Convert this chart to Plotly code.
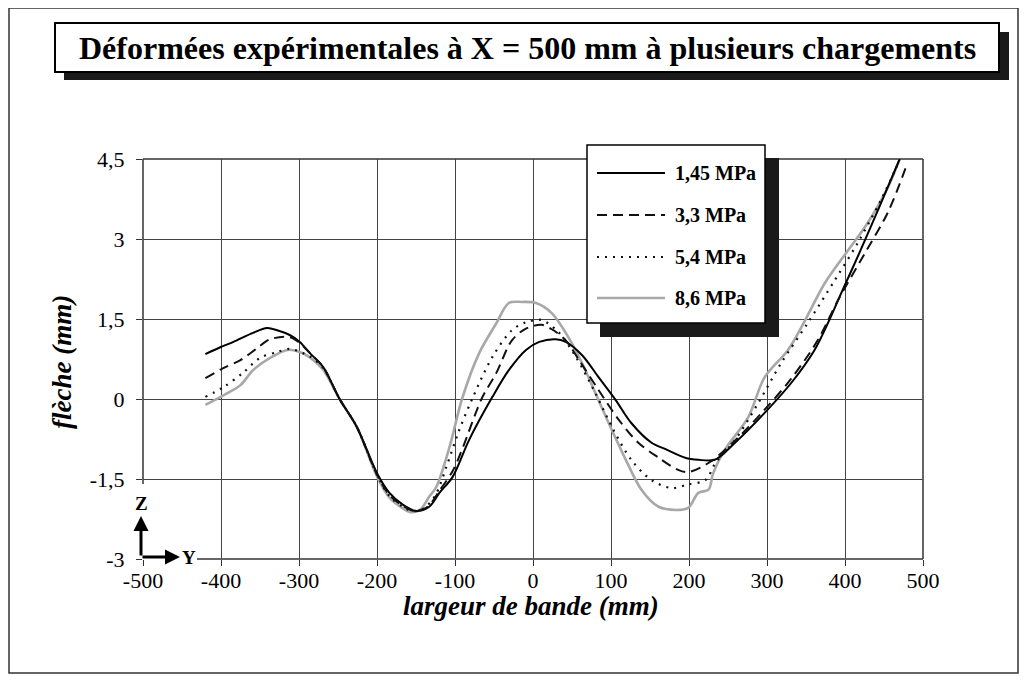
import plotly.graph_objects as go

# ---------------- data ----------------
x_145 = [-420, -401, -384, -359, -341, -328, -312, -299, -286, -269, -248, -226, -200, -184, -167, -150,
         -133, -120, -103, -82, -52, -31, -9, 8, 29, 42, 63, 84, 106, 126, 152, 170, 195, 212, 233, 259,
         297, 331, 361, 378, 395, 420, 446, 471]
y_145 = [0.84, 0.97, 1.07, 1.24, 1.33, 1.29, 1.2, 1.07, 0.86, 0.6, 0.0, -0.52, -1.39, -1.76, -1.98, -2.1,
         -2.02, -1.76, -1.46, -0.77, 0.04, 0.54, 0.92, 1.07, 1.12, 1.07, 0.82, 0.41, -0.02, -0.45, -0.82,
         -0.94, -1.1, -1.14, -1.14, -0.82, -0.26, 0.3, 0.92, 1.42, 1.98, 2.79, 3.67, 4.53]

x_33 = [-420, -397, -375, -354, -337, -312, -299, -286, -269, -248, -226, -200, -184, -167, -152, -135,
        -120, -103, -91, -66, -47, -27, -9, 11, 25, 42, 59, 84, 110, 135, 161, 186, 199, 225, 259, 297,
        331, 365, 391, 425, 455, 480]
y_33 = [0.39, 0.58, 0.73, 0.95, 1.12, 1.16, 1.05, 0.86, 0.6, 0.0, -0.52, -1.42, -1.8, -2.0, -2.1, -2.02,
        -1.72, -1.35, -0.95, 0.0, 0.49, 1.1, 1.32, 1.39, 1.3, 1.1, 0.73, 0.17, -0.39, -0.82, -1.1, -1.33,
        -1.37, -1.2, -0.78, -0.2, 0.38, 1.1, 1.85, 2.72, 3.5, 4.42]

x_54 = [-420, -397, -372, -350, -328, -312, -295, -286, -269, -248, -226, -200, -184, -167, -155, -140,
        -125, -111, -95, -78, -52, -27, -9, 11, 33, 55, 80, 101, 126, 152, 178, 199, 221, 234, 259, 289,
        318, 352, 387, 416, 446, 470]
y_54 = [0.04, 0.22, 0.49, 0.77, 0.88, 0.94, 0.86, 0.8, 0.58, 0.0, -0.52, -1.42, -1.82, -2.02, -2.1, -2.05,
        -1.8, -1.27, -0.6, 0.0, 0.79, 1.29, 1.44, 1.48, 1.25, 0.79, 0.11, -0.52, -1.14, -1.52, -1.67,
        -1.6, -1.52, -1.2, -0.77, -0.07, 0.67, 1.42, 2.23, 2.92, 3.73, 4.48]

x_86 = [-420, -397, -375, -359, -337, -315, -299, -286, -269, -248, -226, -200, -184, -167, -158, -145,
        -133, -124, -107, -91, -69, -47, -31, -14, 4, 24, 42, 63, 80, 97, 119, 139, 161, 183, 199, 212,
        225, 231, 246, 276, 297, 327, 349, 374, 404, 429, 455, 471]
y_86 = [-0.11, 0.07, 0.26, 0.54, 0.77, 0.92, 0.88, 0.78, 0.55, 0.0, -0.52, -1.45, -1.85, -2.05, -2.12,
        -2.08, -1.83, -1.65, -0.9, 0.0, 0.86, 1.42, 1.8, 1.82, 1.8, 1.61, 1.24, 0.67, 0.11, -0.45, -1.14,
        -1.7, -2.02, -2.08, -2.04, -1.76, -1.7, -1.39, -0.95, -0.34, 0.41, 0.92, 1.48, 2.17, 2.79, 3.3,
        3.97, 4.53]

series_names = ["1,45 MPa", "3,3 MPa", "5,4 MPa", "8,6 MPa"]
x_ticks = [-500, -400, -300, -200, -100, 0, 100, 200, 300, 400, 500]
y_ticks = [-3, -1.5, 0, 1.5, 3, 4.5]
y_tick_text = ["-3", "-1,5", "0", "1,5", "3", "4,5"]

title_text = "Déformées expérimentales à X = 500 mm à plusieurs chargements"
x_title = "largeur de bande (mm)"
y_title = "flèche (mm)"

# ---------------- styling ----------------
FONT = "Liberation Serif"
OFF = 8                      # default page margin of the html body
W, H = 1011, 666
L, R, T, B = 143 - OFF, 923 - OFF, 159 - OFF, 559 - OFF  # plot area in figure pixels


def px(xs):
    """screen x pixel -> paper coordinate"""
    return (xs - OFF - L) / (R - L)


def py(ys):
    """screen y pixel -> paper coordinate"""
    return (B - (ys - OFF)) / (B - T)


styles = [
    dict(color="black", width=2, dash="solid"),
    dict(color="#111111", width=2, dash="10px,6px"),
    dict(color="#111111", width=2.2, dash="2px,6px"),
    dict(color="#a8a8a8", width=2.6, dash="solid"),
]

fig = go.Figure()
order = [3, 0, 1, 2]  # lightest curve at the back
all_x = [x_145, x_33, x_54, x_86]
all_y = [y_145, y_33, y_54, y_86]
for i in order:
    fig.add_trace(go.Scatter(x=all_x[i], y=all_y[i], mode="lines", name=series_names[i],
                             line=dict(shape="spline", smoothing=0.9, **styles[i]), showlegend=False))

shapes = []
# outer frame
shapes.append(dict(type="rect", xref="paper", yref="paper", x0=px(9), x1=px(1018), y0=py(673), y1=py(8),
                   line=dict(color="#333333", width=1.5), layer="below"))
# corner eraser under the Z/Y arrows
shapes.append(dict(type="rect", xref="paper", yref="paper", x0=px(143.5), x1=px(196), y0=py(562), y1=py(485),
                   fillcolor="white", line=dict(width=0), layer="between"))
# plot frame lines
frame_col = "#333333"
shapes.append(dict(type="line", xref="paper", yref="paper", x0=0, x1=1, y0=1, y1=1,
                   line=dict(color=frame_col, width=1.5), layer="between"))
shapes.append(dict(type="line", xref="paper", yref="paper", x0=1, x1=1, y0=0, y1=1,
                   line=dict(color=frame_col, width=1.5), layer="between"))
shapes.append(dict(type="line", xref="paper", yref="paper", x0=0, x1=0, y0=py(484), y1=1,
                   line=dict(color=frame_col, width=1.5), layer="between"))
shapes.append(dict(type="line", xref="paper", yref="paper", x0=px(197), x1=1, y0=0, y1=0,
                   line=dict(color=frame_col, width=1.5), layer="between"))

# title box with shadow
shapes.append(dict(type="rect", xref="paper", yref="paper", x0=px(64), x1=px(1009), y0=py(80), y1=py(32),
                   fillcolor="#1a1a1a", line=dict(width=0), layer="above"))
shapes.append(dict(type="rect", xref="paper", yref="paper", x0=px(55), x1=px(999), y0=py(72), y1=py(23),
                   fillcolor="white", line=dict(color="black", width=2), layer="above"))

# legend box with shadow
shapes.append(dict(type="rect", xref="paper", yref="paper", x0=px(600), x1=px(779), y0=py(337), y1=py(158),
                   fillcolor="#1a1a1a", line=dict(width=0), layer="above"))
shapes.append(dict(type="rect", xref="paper", yref="paper", x0=px(587), x1=px(765), y0=py(323), y1=py(145),
                   fillcolor="white", line=dict(color="black", width=1.5), layer="above"))

legend_rows = [173, 215, 257, 298]
annotations = []
for row, name, st in zip(legend_rows, series_names, styles):
    shapes.append(dict(type="line", xref="paper", yref="paper", x0=px(597), x1=px(665), y0=py(row), y1=py(row),
                       line=dict(st), layer="above"))
    annotations.append(dict(xref="paper", yref="paper", x=px(673), y=py(row), text=f"<b>{name}</b>",
                            showarrow=False, xanchor="left", yanchor="middle",
                            font=dict(family=FONT, size=20, color="black")))

# title
annotations.append(dict(xref="paper", yref="paper", x=px(527), y=py(48), text=f"<b>{title_text}</b>",
                        showarrow=False, xanchor="center", yanchor="middle",
                        font=dict(family=FONT, size=32, color="black")))
# axis titles
annotations.append(dict(xref="paper", yref="paper", x=px(531), y=py(606), text=f"<b><i>{x_title}</i></b>",
                        showarrow=False, xanchor="center", yanchor="middle",
                        font=dict(family=FONT, size=27, color="black")))
annotations.append(dict(xref="paper", yref="paper", x=px(62), y=py(362), text=f"<b><i>{y_title}</i></b>",
                        showarrow=False, xanchor="center", yanchor="middle", textangle=-90,
                        font=dict(family=FONT, size=27, color="black")))
# Z / Y orientation arrows
annotations.append(dict(xref="paper", yref="paper", x=px(141), y=py(516), ax=0, ay=41, text="",
                        showarrow=True, arrowhead=2, arrowsize=1, arrowwidth=3, arrowcolor="black"))
annotations.append(dict(xref="paper", yref="paper", x=px(180), y=py(557), ax=-39, ay=0, text="",
                        showarrow=True, arrowhead=2, arrowsize=1, arrowwidth=3, arrowcolor="black"))
annotations.append(dict(xref="paper", yref="paper", x=px(141), y=py(503), text="<b>Z</b>", showarrow=False,
                        xanchor="center", yanchor="middle", font=dict(family=FONT, size=19, color="black")))
annotations.append(dict(xref="paper", yref="paper", x=px(189), y=py(557), text="<b>Y</b>", showarrow=False,
                        xanchor="center", yanchor="middle", font=dict(family=FONT, size=19, color="black")))

fig.update_layout(
    width=W, height=H,
    margin=dict(l=L, r=W - R, t=T, b=H - B, pad=0),
    paper_bgcolor="white", plot_bgcolor="white",
    shapes=shapes, annotations=annotations,
    showlegend=False,
    font=dict(family=FONT, color="black"),
)
fig.update_xaxes(range=[-500, 500], tickvals=x_ticks, ticktext=[str(v) for v in x_ticks],
                 showgrid=True, gridcolor="#444444", gridwidth=1, zeroline=False, showline=False,
                 ticks="outside", ticklen=6, tickwidth=1.2, tickcolor="#333333",
                 tickfont=dict(family=FONT, size=22, color="black"), ticklabelstandoff=-4)
fig.update_yaxes(range=[-3, 4.5], tickvals=y_ticks, ticktext=y_tick_text,
                 showgrid=True, gridcolor="#444444", gridwidth=1, zeroline=False, showline=False,
                 ticks="outside", ticklen=6, tickwidth=1.2, tickcolor="#333333",
                 tickfont=dict(family=FONT, size=22, color="black"), ticklabelstandoff=7)

fig.write_html("out.html")
